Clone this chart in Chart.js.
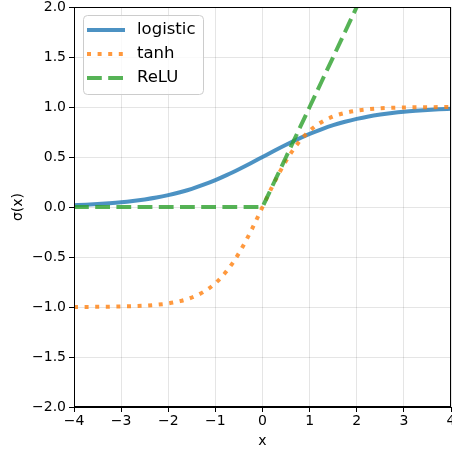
<!DOCTYPE html>
<html>
<head>
<meta charset="utf-8">
<script src="https://cdn.jsdelivr.net/npm/chart.js@4.4.0/dist/chart.umd.min.js"></script>
<style>
  html, body { margin: 0; padding: 0; background: #fff; }
  #wrap { width: 452px; height: 450px; position: relative; }
</style>
</head>
<body>
<div id="wrap"><canvas id="actChart"></canvas></div>
<script>
// sample positions along x
const xValues = [-4, -3.75, -3.5, -3.25, -3, -2.75, -2.5, -2.25, -2, -1.75, -1.5, -1.25, -1, -0.75, -0.5, -0.25,
  0, 0.25, 0.5, 0.75, 1, 1.25, 1.5, 1.75, 2, 2.25, 2.5, 2.75, 3, 3.25, 3.5, 3.75, 4];

const logisticValues = [0.018, 0.023, 0.029, 0.037, 0.047, 0.060, 0.076, 0.095, 0.119, 0.148, 0.182, 0.223, 0.269, 0.321, 0.378, 0.438,
  0.5, 0.562, 0.622, 0.679, 0.731, 0.777, 0.818, 0.852, 0.881, 0.905, 0.924, 0.940, 0.953, 0.963, 0.971, 0.977, 0.982];

const tanhValues = [-0.999, -0.999, -0.998, -0.997, -0.995, -0.992, -0.987, -0.978, -0.964, -0.941, -0.905, -0.848, -0.762, -0.635, -0.462, -0.245,
  0, 0.245, 0.462, 0.635, 0.762, 0.848, 0.905, 0.941, 0.964, 0.978, 0.987, 0.992, 0.995, 0.997, 0.998, 0.999, 0.999];

const reluValues = [0, 0, 0, 0, 0, 0, 0, 0, 0, 0, 0, 0, 0, 0, 0, 0,
  0, 0.25, 0.5, 0.75, 1, 1.25, 1.5, 1.75, 2, 2.25, 2.5, 2.75, 3, 3.25, 3.5, 3.75, 4];

const xTicks = [-4, -3, -2, -1, 0, 1, 2, 3, 4];
const yTicks = [-2, -1.5, -1, -0.5, 0, 0.5, 1, 1.5, 2];

const FONT = "'DejaVu Sans', sans-serif";
const minus = s => s.replace('-', '\u2212');
const toPoints = ys => xValues.map((x, i) => ({ x: x, y: ys[i] }));

// frame around the plot, drawn over the lines like matplotlib spines
const framePlugin = {
  id: 'frame',
  afterDatasetsDraw(chart) {
    const a = chart.chartArea;
    const ctx = chart.ctx;
    ctx.save();
    ctx.strokeStyle = '#000';
    ctx.lineWidth = 1;
    ctx.strokeRect(Math.round(a.left) + 0.5, Math.round(a.top) + 0.5,
      Math.round(a.right - a.left) - 1, Math.round(a.bottom - a.top) - 1);
    ctx.restore();
  }
};

// legend box in the upper left corner of the plot
const boxLegend = {
  id: 'boxLegend',
  afterDraw(chart) {
    const a = chart.chartArea;
    const ctx = chart.ctx;
    const x0 = a.left + 9, y0 = a.top + 8;
    const w = 120, h = 79;
    ctx.save();
    ctx.globalAlpha = 0.8;
    ctx.fillStyle = '#fff';
    ctx.strokeStyle = '#cccccc';
    ctx.lineWidth = 1;
    ctx.beginPath();
    ctx.roundRect(x0 + 0.5, y0 + 0.5, w, h, 4);
    ctx.fill();
    ctx.globalAlpha = 1;
    ctx.stroke();
    chart.data.datasets.forEach((ds, i) => {
      const cy = y0 + 15 + i * 24;
      ctx.strokeStyle = ds.borderColor;
      ctx.lineWidth = ds.borderWidth;
      ctx.setLineDash(ds.borderDash || []);
      ctx.lineCap = 'butt';
      ctx.beginPath();
      ctx.moveTo(x0 + 4, cy);
      ctx.lineTo(x0 + 42, cy);
      ctx.stroke();
      ctx.setLineDash([]);
      ctx.fillStyle = '#000';
      ctx.font = '16.5px ' + FONT;
      ctx.textBaseline = 'middle';
      ctx.fillText(ds.label, x0 + 54, cy);
    });
    ctx.restore();
  }
};

new Chart(document.getElementById('actChart'), {
  type: 'line',
  data: {
    datasets: [
      {
        label: 'logistic',
        data: toPoints(logisticValues),
        borderColor: 'rgba(31, 119, 180, 0.8)',
        borderWidth: 4,
        pointRadius: 0,
        cubicInterpolationMode: 'monotone',
        order: 3
      },
      {
        label: 'tanh',
        data: toPoints(tanhValues),
        borderColor: 'rgba(255, 127, 14, 0.8)',
        borderWidth: 4,
        borderDash: [4, 6.6],
        pointRadius: 0,
        cubicInterpolationMode: 'monotone',
        order: 2
      },
      {
        label: 'ReLU',
        data: toPoints(reluValues),
        borderColor: 'rgba(44, 160, 44, 0.8)',
        borderWidth: 4,
        borderDash: [14.8, 6.4],
        pointRadius: 0,
        order: 1
      }
    ]
  },
  options: {
    responsive: true,
    maintainAspectRatio: false,
    animation: false,
    layout: { padding: { top: 7, right: 1, left: 0, bottom: 0 } },
    plugins: {
      legend: { display: false },
      tooltip: { enabled: false }
    },
    scales: {
      x: {
        type: 'linear',
        min: -4,
        max: 4,
        afterBuildTicks: s => { s.ticks = xTicks.map(v => ({ value: v })); },
        afterFit: s => { s.height = 43; s.paddingLeft = 0; s.paddingRight = 0; },
        ticks: {
          color: '#000',
          font: { family: FONT, size: 14 },
          padding: 1,
          maxRotation: 0,
          callback: v => minus(String(v))
        },
        grid: {
          color: 'rgba(0, 0, 0, 0.1)',
          tickColor: '#000',
          tickLength: 5,
          drawTicks: true
        },
        border: { color: '#000' },
        title: {
          display: true,
          text: 'x',
          color: '#000',
          font: { family: FONT, size: 14 },
          padding: { top: 0, bottom: 0 }
        }
      },
      y: {
        type: 'linear',
        min: -2,
        max: 2,
        afterBuildTicks: s => { s.ticks = yTicks.map(v => ({ value: v })); },
        afterFit: s => { s.width = 74; s.paddingTop = 0; s.paddingBottom = 0; },
        ticks: {
          color: '#000',
          font: { family: FONT, size: 14 },
          padding: 3,
          callback: v => minus(v.toFixed(1))
        },
        grid: {
          color: 'rgba(0, 0, 0, 0.1)',
          tickColor: '#000',
          tickLength: 5,
          drawTicks: true
        },
        border: { color: '#000' },
        title: {
          display: true,
          text: '\u03c3(x)',
          color: '#000',
          font: { family: FONT, size: 14 },
          padding: { top: 10, bottom: 0 }
        }
      }
    }
  },
  plugins: [framePlugin, boxLegend]
});
</script>
</body>
</html>
